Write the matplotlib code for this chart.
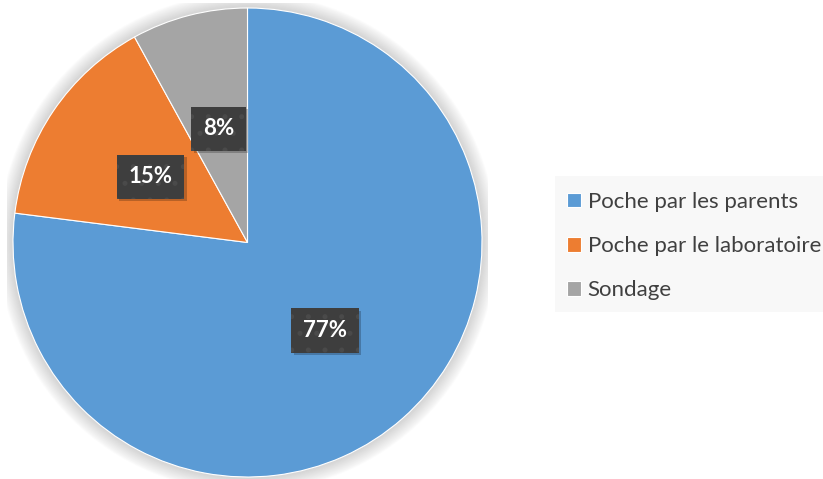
import matplotlib
matplotlib.use("Agg")
import matplotlib.pyplot as plt
from matplotlib.patches import Circle, Rectangle
from matplotlib.transforms import IdentityTransform

labels = ["Poche par les parents", "Poche par le laboratoire", "Sondage"]
values = [77, 15, 8]
colors = ["#5B9BD5", "#ED7D31", "#A5A5A5"]

plt.rcParams['hatch.linewidth'] = 1.2
W, H = 823, 479
fig = plt.figure(figsize=(W / 100, H / 100), dpi=100)
fig.patch.set_facecolor("white")

cx, cy, R = 247.5, 242.5, 234.5
half = 240.0
ax = fig.add_axes([(cx - half) / W, (H - cy - half) / H, 2 * half / W, 2 * half / H])
lim = half / R

# soft glow around the pie
n = 14
for i in range(n, 0, -1):
    ax.add_patch(Circle((0, 0.0), 1 + i * 0.0045, facecolor="#9a9a9a",
                        alpha=0.03, edgecolor="none", zorder=0))

wedges, texts, autotexts = ax.pie(
    values, colors=colors, startangle=90, counterclock=False,
    autopct="%1.0f%%", pctdistance=0.5, radius=1,
    wedgeprops=dict(edgecolor="white", linewidth=0.8),
    textprops=dict(color="white", fontsize=16, fontweight="bold", family="Lato"),
)
ax.set_xlim(-lim, lim)
ax.set_ylim(-lim, lim)
ax.set_aspect("equal")
ax.axis("off")
for t in autotexts:
    t.set_zorder(5)
    t.set_bbox(dict(boxstyle="square,pad=0.52", facecolor="#3e3e3e",
                    edgecolor="#4a4a4a", hatch=".", linewidth=0))

# shadows under the label boxes (pixel coordinates)
fig.canvas.draw()
for t in autotexts:
    bb = t.get_bbox_patch().get_window_extent()
    ax.add_patch(Rectangle((bb.x0 + 2.5, bb.y0 - 2.5), bb.width, bb.height,
                           transform=IdentityTransform(), facecolor="black",
                           alpha=0.22, edgecolor="none", zorder=4, clip_on=False))

# legend background
fig.patches.append(Rectangle((555 / W, (H - 312) / H), (W - 555) / W, 136 / H,
                             transform=fig.transFigure, facecolor="#f8f8f8",
                             edgecolor="none", zorder=0))
leg = fig.legend(wedges, labels, loc="upper left",
                 bbox_to_anchor=(567 / W, (H - 192) / H),
                 frameon=False, prop=dict(family="Lato", size=16),
                 handlelength=0.63, handleheight=0.63, handletextpad=0.3,
                 labelspacing=1.09, borderaxespad=0, borderpad=0)
for t in leg.get_texts():
    t.set_color("#404040")

fig.savefig("out.png", dpi=100, facecolor="white")
